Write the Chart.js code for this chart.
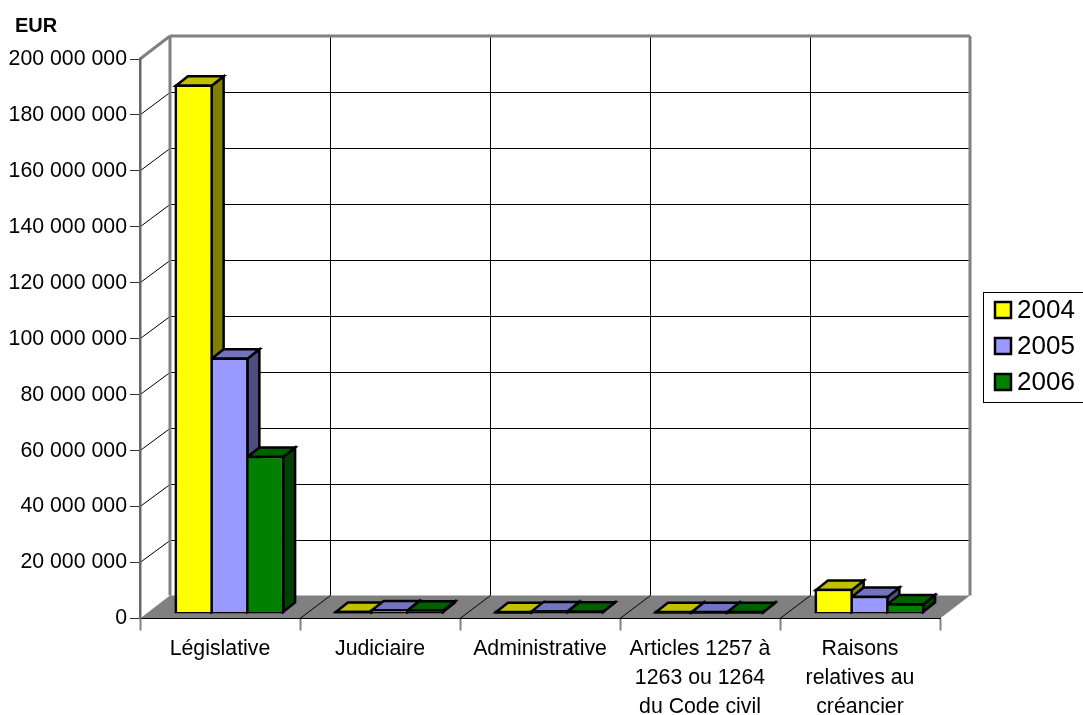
<!DOCTYPE html>
<html>
<head>
<meta charset="utf-8">
<style>html,body{margin:0;padding:0;background:#fff}canvas{display:block}</style>
<script src="https://cdn.jsdelivr.net/npm/chart.js@4"></script>
</head>
<body>
<canvas id="myChart" width="1083" height="715"></canvas>
<script>
const categories = [
  'Législative',
  'Judiciaire',
  'Administrative',
  ['Articles 1257 à', '1263 ou 1264', 'du Code civil'],
  ['Raisons', 'relatives au', 'créancier']
];
const seriesNames = ['2004', '2005', '2006'];
const values2004 = [188300000, 150000, 120000, 60000, 8000000];
const values2005 = [90700000, 700000, 400000, 70000, 5500000];
const values2006 = [55600000, 600000, 250000, 60000, 2900000];
const yTickLabels = ['0', '20 000 000', '40 000 000', '60 000 000', '80 000 000', '100 000 000',
  '120 000 000', '140 000 000', '160 000 000', '180 000 000', '200 000 000'];

const frontColors = ['#FFFF00', '#9999FF', '#008000'];
const topColors = ['#C0C000', '#7373C0', '#006000'];
const sideColors = ['#808000', '#4D4D80', '#004000'];

const FONT = '"Liberation Sans", Arial, sans-serif';
// how far the back wall sits behind the axes
const WALL_DX = 30, WALL_DY = -23;
// bars stand a bit behind the front edge of the floor
const BAR_DX = 9.5, BAR_DY = -6;
// depth of one bar
const DEPTH_DX = 12, DEPTH_DY = -9.5;

function poly(ctx, pts, fill, stroke, lw) {
  ctx.beginPath();
  pts.forEach((p, i) => i ? ctx.lineTo(p[0], p[1]) : ctx.moveTo(p[0], p[1]));
  ctx.closePath();
  if (fill) { ctx.fillStyle = fill; ctx.fill(); }
  if (stroke) { ctx.strokeStyle = stroke; ctx.lineWidth = lw; ctx.stroke(); }
}

function line(ctx, x0, y0, x1, y1, color, lw) {
  ctx.beginPath();
  ctx.moveTo(x0, y0);
  ctx.lineTo(x1, y1);
  ctx.strokeStyle = color;
  ctx.lineWidth = lw;
  ctx.stroke();
}

const wallsPlugin = {
  id: 'walls',
  afterLayout(chart) {
    // title sits a little in from the edge, the y labels need that room
    chart.titleBlock.left = 15;
  },
  beforeDraw(chart) {
    const ctx = chart.ctx, a = chart.chartArea;
    const ys = chart.scales.y;
    ctx.save();
    // floor
    poly(ctx, [[a.left, a.bottom], [a.left + WALL_DX, a.bottom + WALL_DY],
      [a.right + WALL_DX, a.bottom + WALL_DY], [a.right, a.bottom]], '#808080');
    // grid lines on the side wall and back wall
    ys.ticks.forEach((t, i) => {
      if (i === 0 || i === ys.ticks.length - 1) return;
      const y = ys.getPixelForValue(t.value);
      const back = Math.round(y + WALL_DY) + 0.5;
      line(ctx, a.left, y, a.left + WALL_DX, back, '#000', 1);
      line(ctx, a.left + WALL_DX, back, a.right + WALL_DX, back, '#000', 1);
    });
    // grid lines on the floor and back wall
    categories.forEach((c, i) => {
      if (i === 0) return;
      const x = a.left + i * (a.right - a.left) / categories.length;
      const back = Math.round(x + WALL_DX) + 0.5;
      line(ctx, x, a.bottom, back, a.bottom + WALL_DY, '#000', 1);
      line(ctx, back, a.bottom + WALL_DY, back, a.top + WALL_DY, '#000', 1);
    });
    // wall frame
    line(ctx, a.left, a.top, a.left + WALL_DX, a.top + WALL_DY, '#808080', 3);
    line(ctx, a.left + WALL_DX, a.top + WALL_DY, a.right + WALL_DX, a.top + WALL_DY, '#808080', 3);
    line(ctx, a.left + WALL_DX, a.top + WALL_DY, a.left + WALL_DX, a.bottom + WALL_DY, '#808080', 3);
    line(ctx, a.right + WALL_DX, a.top + WALL_DY, a.right + WALL_DX, a.bottom + WALL_DY, '#808080', 3);
    ctx.restore();
    drawLegend(chart);
  },
  beforeDatasetsDraw(chart) {
    const ctx = chart.ctx;
    ctx.save();
    ctx.translate(BAR_DX, BAR_DY);
    ctx.lineJoin = 'miter';
    // tops and sides first, left to right, the library then paints the fronts
    categories.forEach((c, i) => {
      chart.data.datasets.forEach((ds, j) => {
        const bar = chart.getDatasetMeta(j).data[i];
        const x0 = bar.x - bar.width / 2, x1 = bar.x + bar.width / 2;
        const y0 = bar.y, y1 = bar.base;
        poly(ctx, [[x1, y0], [x1 + DEPTH_DX, y0 + DEPTH_DY], [x1 + DEPTH_DX, y1 + DEPTH_DY], [x1, y1]],
          sideColors[j], '#000', 2.5);
        poly(ctx, [[x0, y0], [x0 + DEPTH_DX, y0 + DEPTH_DY], [x1 + DEPTH_DX, y0 + DEPTH_DY], [x1, y0]],
          topColors[j], '#000', 2.5);
        poly(ctx, [[x0, y0], [x1, y0], [x1, y1], [x0, y1]], null, '#000', 2.5);
      });
    });
  },
  afterDatasetsDraw(chart) {
    chart.ctx.restore();
  }
};

function drawLegend(chart) {
  const ctx = chart.ctx;
  ctx.save();
  ctx.strokeStyle = '#000';
  ctx.lineWidth = 1;
  ctx.fillStyle = '#fff';
  ctx.fillRect(983.5, 292.5, 101, 110);
  ctx.strokeRect(983.5, 292.5, 101, 110);
  ctx.font = '26px ' + FONT;
  ctx.textBaseline = 'middle';
  chart.data.datasets.forEach((ds, j) => {
    const y = 310 + j * 36;
    ctx.fillStyle = ds.backgroundColor;
    ctx.fillRect(995, y - 8, 16, 16);
    ctx.strokeStyle = '#000';
    ctx.lineWidth = 2.5;
    ctx.strokeRect(995, y - 8, 16, 16);
    ctx.fillStyle = '#000';
    ctx.fillText(ds.label, 1017, y + 1);
  });
  ctx.restore();
}

const seriesValues = [values2004, values2005, values2006];

new Chart(document.getElementById('myChart').getContext('2d'), {
  type: 'bar',
  data: {
    labels: categories,
    datasets: seriesNames.map((name, j) => ({
      label: name,
      data: seriesValues[j],
      backgroundColor: frontColors[j],
      borderColor: '#000',
      borderWidth: 1.25,
      inflateAmount: 0,
      clip: false
    }))
  },
  options: {
    responsive: false,
    animation: false,
    categoryPercentage: 0.67,
    barPercentage: 1,
    layout: { padding: { left: 0, right: 143, top: 0, bottom: 0 } },
    plugins: {
      legend: { display: false },
      tooltip: { enabled: false },
      title: {
        display: true,
        text: 'EUR',
        align: 'start',
        color: '#000',
        font: { family: FONT, size: 20, weight: 'bold', lineHeight: 1.2 },
        padding: { top: 14, bottom: 21 }
      }
    },
    scales: {
      x: {
        afterFit(scale) { scale.height = 96.5; },
        border: { color: '#000', width: 1 },
        grid: { drawOnChartArea: false, tickColor: '#808080', tickLength: 12, tickWidth: 2 },
        ticks: {
          color: '#000',
          autoSkip: false,
          maxRotation: 0,
          padding: 4,
          font: { family: FONT, size: 21.3, lineHeight: 1.36 }
        }
      },
      y: {
        min: 0,
        max: 200000000,
        afterFit(scale) { scale.width = 140; },
        border: { color: '#666', width: 2.5 },
        grid: { drawOnChartArea: false, tickColor: '#333', tickLength: 10 },
        ticks: {
          stepSize: 20000000,
          color: '#000',
          padding: 3,
          font: { family: FONT, size: 21.3 },
          callback: (value, index) => yTickLabels[index]
        }
      }
    }
  },
  plugins: [wallsPlugin]
});
</script>
</body>
</html>
